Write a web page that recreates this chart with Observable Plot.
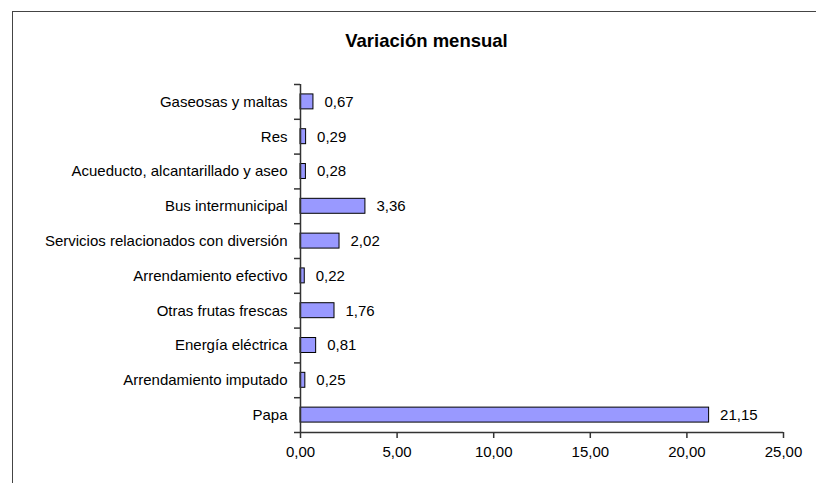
<!DOCTYPE html>
<html>
<head>
<meta charset="utf-8">
<script src="https://cdn.jsdelivr.net/npm/d3@7"></script>
<script src="https://cdn.jsdelivr.net/npm/@observablehq/plot@0.6"></script>
<style>
  html, body { margin: 0; padding: 0; background: #fff; }
  #wrap { position: relative; width: 816px; height: 483px; overflow: hidden; font-family: "Liberation Sans", Arial, sans-serif; }
  #frame { position: absolute; left: 12px; top: 11px; width: 900px; height: 600px; border-left: 1.5px solid #444; border-top: 1.5px solid #444; box-sizing: border-box; }
  #title { position: absolute; left: 0; width: 853px; top: 31.6px; line-height: 1; text-align: center; font-weight: bold; font-size: 18.5px; color: #000; }
  #chart { position: absolute; left: 0; top: 0; }
</style>
</head>
<body>
<div id="wrap">
  <div id="frame"></div>
  <div id="title">Variación mensual</div>
  <div id="chart"></div>
</div>
<script>
const categories = [
  "Gaseosas y maltas",
  "Res",
  "Acueducto, alcantarillado y aseo",
  "Bus intermunicipal",
  "Servicios relacionados con diversión",
  "Arrendamiento efectivo",
  "Otras frutas frescas",
  "Energía eléctrica",
  "Arrendamiento imputado",
  "Papa"
];
const values = [0.67, 0.29, 0.28, 3.36, 2.02, 0.22, 1.76, 0.81, 0.25, 21.15];
const xTicks = [0, 5, 10, 15, 20, 25];

const data = categories.map((c, i) => ({cat: c, value: values[i]}));
const fmt = d => d.toFixed(2).replace(".", ",");

const W = 816, H = 483, mT = 84, mB = 51, mL = 300, mR = 33;
const halfStep = (H - mT - mB) / categories.length / 2;

const chart = Plot.plot({
  width: W, height: H,
  marginLeft: mL, marginRight: mR, marginTop: mT, marginBottom: mB,
  style: {fontFamily: "'Liberation Sans', Arial, sans-serif", fontSize: "15px", color: "#000", background: "transparent", overflow: "visible"},
  x: {domain: [0, 25]},
  y: {domain: categories, paddingInner: 0.57, paddingOuter: 0.285, round: false},
  marks: [
    Plot.barX(data, {x: "value", y: "cat", fill: "#9999FF", stroke: "#000", strokeWidth: 1}),
    Plot.text(data, {x: "value", y: "cat", text: d => fmt(d.value), dx: 11, textAnchor: "start", fill: "#000", fontSize: 15}),
    Plot.ruleX([0], {stroke: "#333", strokeWidth: 1.5}),
    Plot.ruleY([categories[categories.length - 1]], {stroke: "#333", strokeWidth: 1.5, dy: halfStep}),
    Plot.axisY({tickSize: 0, tickPadding: 13, label: null, fill: "#000", fontSize: 15}),
    Plot.axisY({text: null, tickSize: 6, label: null, stroke: "#333", strokeWidth: 1.5, dy: -halfStep}),
    Plot.axisY({ticks: [categories[categories.length - 1]], text: null, tickSize: 6, label: null, stroke: "#333", strokeWidth: 1.5, dy: halfStep}),
    Plot.axisX({ticks: xTicks, tickFormat: fmt, tickSize: 6, tickPadding: 8, label: null, stroke: "#333", strokeWidth: 1.5, fill: "#000", fontSize: 15})
  ]
});
document.getElementById("chart").appendChild(chart);
</script>
</body>
</html>
